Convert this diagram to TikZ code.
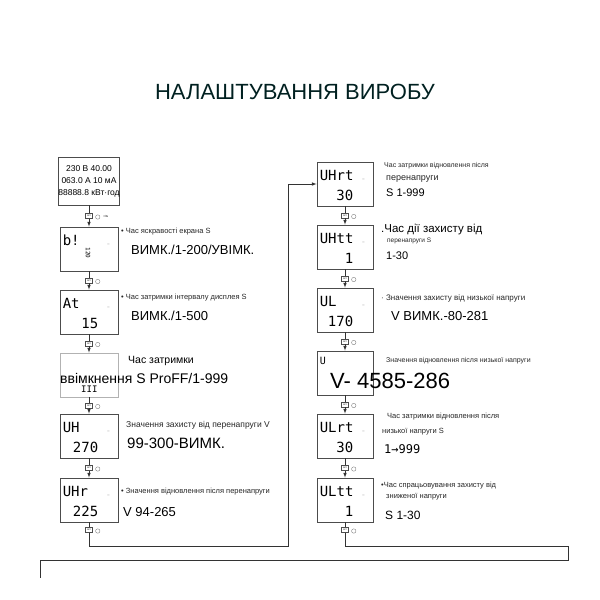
\documentclass[tikz,border=0pt]{standalone}
\usepackage{fontspec}
\setmainfont{Liberation Sans}
\newfontfamily\seg{DejaVu Sans Mono}
\begin{document}
\begin{tikzpicture}[x=1pt,y=-1pt,
  scr/.style={draw=black!70,line width=0.9pt,minimum width=56pt,minimum height=44pt,inner sep=0pt},
  btn/.style={draw=black!70,line width=0.5pt,minimum width=7pt,minimum height=5pt,inner sep=0pt,font=\fontsize{2}{2}\selectfont},
  ln/.style={line width=0.6pt,black!80},
  big/.style={anchor=west,font=\fontsize{13}{13}\selectfont,inner sep=0pt},
  sml/.style={anchor=west,font=\fontsize{7.5}{8}\selectfont,inner sep=0pt,text=black!85},
  dig/.style={font=\seg\fontsize{14}{14}\selectfont,inner sep=0pt,anchor=west}]
\useasboundingbox (0,0) rectangle (600,600);
\node[font=\fontsize{22}{22}\selectfont,text=black!75!teal] (title) at (295,92) {НАЛАШТУВАННЯ ВИРОБУ};
% left column
\node[scr,minimum height=48pt,minimum width=58pt,align=center,font=\fontsize{8.5}{12}\selectfont] (L1) at (89,181) {230 В 40.00\\063.0 А 10 мА\\88888.8 кВт·год};
\node[scr,minimum width=58pt] (L2) at (89,249) {};
\node[scr,minimum width=58pt] (L3) at (89,312) {};
\node[scr,minimum width=58pt,draw=black!30] (L4) at (89,375) {};
\node[scr,minimum width=58pt] (L5) at (89,436) {};
\node[scr,minimum width=58pt] (L6) at (89,500) {};
% right column
\node[scr] (R1) at (345,184) {};
\node[scr] (R2) at (345,247) {};
\node[scr] (R3) at (345,310) {};
\node[scr] (R4) at (345,373) {};
\node[scr] (R5) at (345,436) {};
\node[scr] (R6) at (345,500) {};
% screen contents
\foreach \s/\a/\b in {L2/b!/,L3/At/15,L5/UH/270,L6/UHr/225,R1/UHrt/30,R2/UHtt/1,R3/UL/170,R5/ULrt/30,R6/ULtt/1}{
  \node[dig] at ([xshift=3pt,yshift=9pt]\s.west) {\a};
  \node[dig,anchor=east] at ([xshift=-20pt,yshift=-11pt]\s.east) {\b};
  \node[font=\fontsize{4}{4}\selectfont,text=black!60] at ([xshift=-10pt,yshift=4pt]\s.east) {--};
}
\node[font=\seg\fontsize{6}{6}\selectfont,rotate=-90] at ([xshift=-1pt,yshift=-4pt]L2.center) {120};
\node[dig,font=\seg\fontsize{9}{9}\selectfont] at ([xshift=-8pt,yshift=-14pt]L4.center) {III};
\node[dig,font=\seg\fontsize{10}{10}\selectfont] at ([xshift=3pt,yshift=12pt]R4.west) {U};
% buttons and arrows
\foreach \a/\b in {L1/L2,L2/L3,L3/L4,L4/L5,L5/L6,R1/R2,R2/R3,R3/R4,R4/R5,R5/R6}{
  \path (\a.south) -- (\b.north) node[midway,btn] (\a btn) {SET};
  \draw[ln] (\a.south) -- (\a btn.north);
  \draw[ln,-latex] (\a btn.south) -- (\b.north);
  \draw[black!50,line width=0.4pt] ([xshift=5pt,yshift=-1pt]\a btn.east) circle (2.2pt);
}
\node[font=\fontsize{3}{3}\selectfont] at ([xshift=13pt]L1btn.east) {>3s};
\node[btn] (L6btn) at (89,530) {SET};
\node[btn] (R6btn) at (345,530) {SET};
\draw[ln] (L6.south) -- (L6btn.north);
\draw[ln] (R6.south) -- (R6btn.north);
\draw[black!50,line width=0.4pt] ([xshift=5pt,yshift=-1pt]L6btn.east) circle (2.2pt);
\draw[black!50,line width=0.4pt] ([xshift=5pt,yshift=-1pt]R6btn.east) circle (2.2pt);
\coordinate (c1) at (288,546);
\coordinate (c2) at (568,560);
\coordinate (c3) at (40,578);
\draw[ln,-latex] (L6btn.south) |- (c1) -- (288,184) -- (R1.west);
\draw[ln] (R6btn.south) |- (568,546) -- (c2) -- (40,560) -- (c3);
% descriptions
\node[sml] (t2a) at (121,232) {• Час яскравості екрана S};
\node[big] (t2b) at (131,250) {ВИМК./1-200/УВІМК.};
\node[sml] (t3a) at (121,298) {• Час затримки інтервалу дисплея S};
\node[big] (t3b) at (131,316) {ВИМК./1-500};
\node[anchor=west,inner sep=0pt,font=\fontsize{10.5}{11}\selectfont] (t4a) at (128,361) {Час затримки};
\node[anchor=west,inner sep=0pt,font=\fontsize{14}{14}\selectfont] (t4b) at (60,378) {ввімкнення S ProFF/1-999};
\node[sml,font=\fontsize{8.5}{9}\selectfont] (t5a) at (126,425) {Значення захисту від перенапруги V};
\node[big,font=\fontsize{15}{15}\selectfont] (t5b) at (127,443) {99-300-ВИМК.};
\node[sml] (t6a) at (121,492) {• Значення відновлення після перенапруги};
\node[big] (t6b) at (123,512) {V 94-265};
\node[sml,font=\fontsize{7}{7}\selectfont] (r1a) at (384,166) {Час затримки відновлення після};
\node[sml,font=\fontsize{9}{9}\selectfont] (r1b) at (386,179) {перенапруги};
\node[big,font=\fontsize{11}{11}\selectfont] (r1c) at (386,193) {S 1-999};
\node[big,font=\fontsize{11.5}{12}\selectfont] (r2a) at (381,230) {.Час дії захисту від};
\node[sml,font=\fontsize{6.5}{7}\selectfont] (r2b) at (387,241) {перенапруги S};
\node[big,font=\fontsize{11}{11}\selectfont] (r2c) at (386,256) {1-30};
\node[sml,font=\fontsize{8}{8}\selectfont] (r3a) at (381,298) {· Значення захисту від низької напруги};
\node[big,font=\fontsize{13}{13}\selectfont] (r3b) at (391,316) {V ВИМК.-80-281};
\node[sml,font=\fontsize{7}{7}\selectfont] (r4a) at (386,361) {Значення відновлення після низької напруги};
\node[big,font=\fontsize{22}{22}\selectfont] (r4b) at (330,381) {V- 4585-286};
\node[sml,font=\fontsize{7.5}{8}\selectfont] (r5a) at (387,417) {Час затримки відновлення після};
\node[sml,font=\fontsize{7.5}{8}\selectfont] (r5b) at (382,432) {низької напруги S};
\node[big,font=\seg\fontsize{12}{12}\selectfont] (r5c) at (384,449) {1→999};
\node[sml,font=\fontsize{7.5}{8}\selectfont] (r6a) at (381,486) {•Час спрацьовування захисту від};
\node[sml,font=\fontsize{7.5}{8}\selectfont] (r6b) at (386,497) {зниженої напруги};
\node[big,font=\fontsize{12}{12}\selectfont] (r6c) at (385,515) {S 1-30};
\end{tikzpicture}
\end{document}
